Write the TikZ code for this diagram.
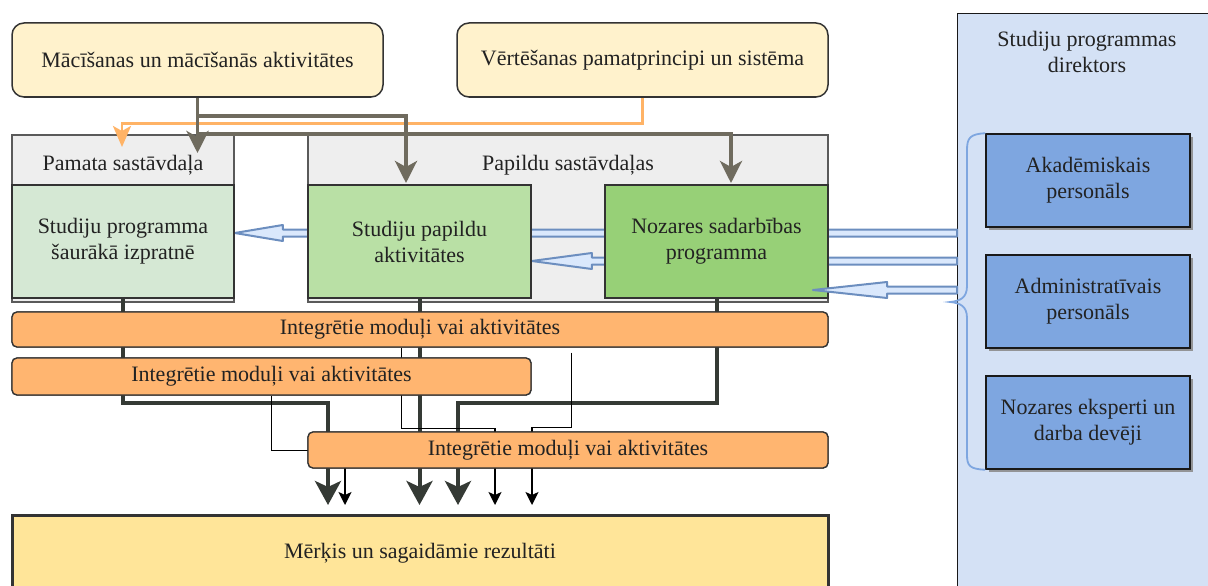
\documentclass[tikz,border=0pt]{standalone}
\usepackage{fontspec}
\setmainfont{Liberation Serif}
\usetikzlibrary{arrows.meta,shadows,calc}
\definecolor{txt}{HTML}{222222}
\definecolor{dk}{HTML}{333333}
\definecolor{ylw}{HTML}{FFF2CC}
\definecolor{cont}{HTML}{EEEEEE}
\definecolor{contb}{HTML}{5A5A5A}
\definecolor{gA}{HTML}{D5E8D4}
\definecolor{gB}{HTML}{B9E0A5}
\definecolor{gC}{HTML}{97D077}
\definecolor{org}{HTML}{FFB570}
\definecolor{orgline}{HTML}{FFB366}
\definecolor{goalc}{HTML}{FFE599}
\definecolor{panelc}{HTML}{D4E1F5}
\definecolor{staff}{HTML}{7EA6E0}
\definecolor{blfill}{HTML}{DAE8FC}
\definecolor{blline}{HTML}{6C8EBF}
\definecolor{grayar}{HTML}{6F6B5E}
\definecolor{darkln}{HTML}{353A35}
\newcommand{\hollowarrow}[3]{%
  \filldraw[blarrow] let \p1=(#1), \p2=(#2) in
    (\x1,\y1+3.5pt) -- (\x2+#3,\y1+3.5pt) -- (\x2+#3,\y1+8pt) -- (\x2,\y2)
    -- (\x2+#3,\y1-8pt) -- (\x2+#3,\y1-3.5pt) -- (\x1,\y1-3.5pt) -- cycle;}
\begin{document}
\begin{tikzpicture}[x=1pt,y=-1pt,
  every node/.style={font=\fontsize{22}{26}\selectfont, text=txt, inner sep=0pt, align=center},
  ybox/.style={draw=dk, line width=1.5pt, fill=ylw, rounded corners=12pt},
  contbox/.style={draw=contb, line width=1.2pt, fill=cont},
  gbox/.style={draw=dk, line width=1.5pt},
  obar/.style={draw=dk, line width=1.3pt, fill=org, rounded corners=5pt},
  staffbox/.style={draw=black!90, line width=1.5pt, fill=staff, drop shadow={shadow xshift=3pt, shadow yshift=-3pt, fill=black!45, opacity=0.9}},
  blarrow/.style={draw=blline, fill=blfill, line width=2pt, line join=round},
  grayarrow/.style={draw=grayar, line width=3.8pt, -{Stealth[length=22pt,width=22pt,inset=6pt]}},
  orgarrow/.style={draw=orgline, line width=2.8pt, -{Stealth[length=21pt,width=18pt,inset=5pt]}},
  thickarrow/.style={draw=darkln, line width=4pt, -{Stealth[length=24pt,width=26pt,inset=6pt]}},
  thinarrow/.style={draw=black, line width=1.5pt, -{Stealth[length=13pt,width=13pt,inset=3pt]}},
  bracestyle/.style={draw=staff, line width=1.8pt}
]
\useasboundingbox (0,0) rectangle (1208,586);
\fill[white] (0,0) rectangle (1208,586);

% right panel
\node[draw=black!90, line width=1.2pt, fill=panelc, minimum width=263pt, minimum height=590pt, anchor=north west] (panel) at (957,13) {};
\node (ptitle) at (1087,52) {Studiju programmas\\direktors};
\node[staffbox, minimum width=204pt, minimum height=93pt] (ak) at (1088,180.5) {Akadēmiskais\\personāls};
\node[staffbox, minimum width=204pt, minimum height=93pt] (ad) at (1088,301.5) {Administratīvais\\personāls};
\node[staffbox, minimum width=204pt, minimum height=93pt] (nx) at (1088,422.5) {Nozares eksperti un\\darba devēji};
\coordinate (brtip) at (950,302);
\draw[bracestyle] (ak.north west) .. controls (970,134) and (967,138) .. (967,150) -- (967,286)
  .. controls (967,298) and (960,301) .. (brtip)
  .. controls (960,303) and (967,306) .. (967,318) -- (967,455)
  .. controls (967,466) and (970,469) .. (nx.south west);

% top boxes
\node[ybox, minimum width=371pt, minimum height=74pt] (A) at (197.5,60) {Mācīšanas un mācīšanās aktivitātes};
\node[ybox, minimum width=371pt, minimum height=74pt] (B) at (642.5,60) {Vērtēšanas pamatprincipi un sistēma};

% end points above the goal box
\coordinate (g1) at (328,505);
\coordinate (g2) at (419.5,505);
\coordinate (g3) at (458,505);
\coordinate (g4) at (345,505);
\coordinate (g5) at (495,505);
\coordinate (g6) at (532,505);

% containers
\node[contbox, minimum width=222pt, minimum height=167pt] (pcont) at (123,218.5) {};
\node[contbox, minimum width=520pt, minimum height=167pt] (acont) at (568,218.5) {};
\node (phead) at (123,165) {Pamata sastāvdaļa};
\node (ahead) at (568,165) {Papildu sastāvdaļas};

% blue hollow arrow anchors
\coordinate (b1s) at (panel.west |- 0,233);
\coordinate (b2s) at (panel.west |- 0,261);
\coordinate (b3s) at (panel.west |- 0,290);

% inner boxes (placement)
\node[gbox, fill=gA, minimum width=222pt, minimum height=113pt] (pin) at (123,241.5) {};
\node[gbox, fill=gB, minimum width=223pt, minimum height=113pt] (spa) at (419.5,241.5) {};
\node[gbox, fill=gC, minimum width=223pt, minimum height=113pt] (nsp) at (716.5,241.5) {};

\coordinate (b1e) at (pin.east |- b1s);
\coordinate (b2e) at (spa.east |- b2s);
\coordinate (b3e) at (813,290);

\hollowarrow{b1s}{b1e}{48pt}
\hollowarrow{b2s}{b2e}{60pt}
\node[gbox, fill=gB, minimum width=223pt, minimum height=113pt] at (spa) {Studiju papildu\\aktivitātes};
\node[gbox, fill=gC, minimum width=223pt, minimum height=113pt] at (nsp) {Nozares sadarbības\\programma};
\node[gbox, fill=gA, minimum width=222pt, minimum height=113pt] at (pin) {Studiju programma\\šaurākā izpratnē};
\hollowarrow{b3s}{b3e}{74pt}

% gray and orange arrows from top boxes
\coordinate (t1) at (197.5,153);
\coordinate (t2) at (406,183);
\coordinate (t3) at (731,183);
\coordinate (t4) at (122,147);
\draw[orgarrow] (B.south) -- ++(0,26) -| (t4);
\draw[grayarrow] (A.south) -- (t1);
\draw[grayarrow] (A.south) -- ++(0,18) -| (t2);
\draw[grayarrow] (A.south) -- ++(0,36) -| (t3);

% bars (placement)
\node[obar, minimum width=816pt, minimum height=35pt] (bar1) at (420,329.5) {};
\node[obar, minimum width=519pt, minimum height=37pt] (bar2) at (271.5,376.5) {};
\node[obar, minimum width=520pt, minimum height=36pt] (bar3) at (568,450) {};

% connectors to goal
\coordinate (s5) at ($(bar1.south west)+(390,0)$);
\coordinate (s6) at ($(bar1.south west)+(560,5)$);
\draw[thickarrow] (pin.south) -- ++(0,104) -| (g1);
\draw[thickarrow] (spa.south) -- (g2);
\draw[thickarrow] (nsp.south) -- ++(0,104) -| (g3);
\draw[thinarrow] (bar2.south) -- ++(0,55) -| (g4);
\draw[thinarrow] (s5) -- ++(0,81) -| (g5);
\draw[thinarrow] (s6) -- ++(0,75) -| (g6);

% bars on top of connectors
\node[obar, minimum width=816pt, minimum height=35pt] at (bar1) {Integrētie moduļi vai aktivitātes};
\node[obar, minimum width=519pt, minimum height=37pt] at (bar2) {Integrētie moduļi vai aktivitātes};
\node[obar, minimum width=520pt, minimum height=36pt] at (bar3) {Integrētie moduļi vai aktivitātes};

% goal
\node[draw=dk, line width=3pt, fill=goalc, minimum width=816pt, minimum height=76pt] (goal) at (420,553) {Mērķis un sagaidāmie rezultāti};
\end{tikzpicture}
\end{document}
